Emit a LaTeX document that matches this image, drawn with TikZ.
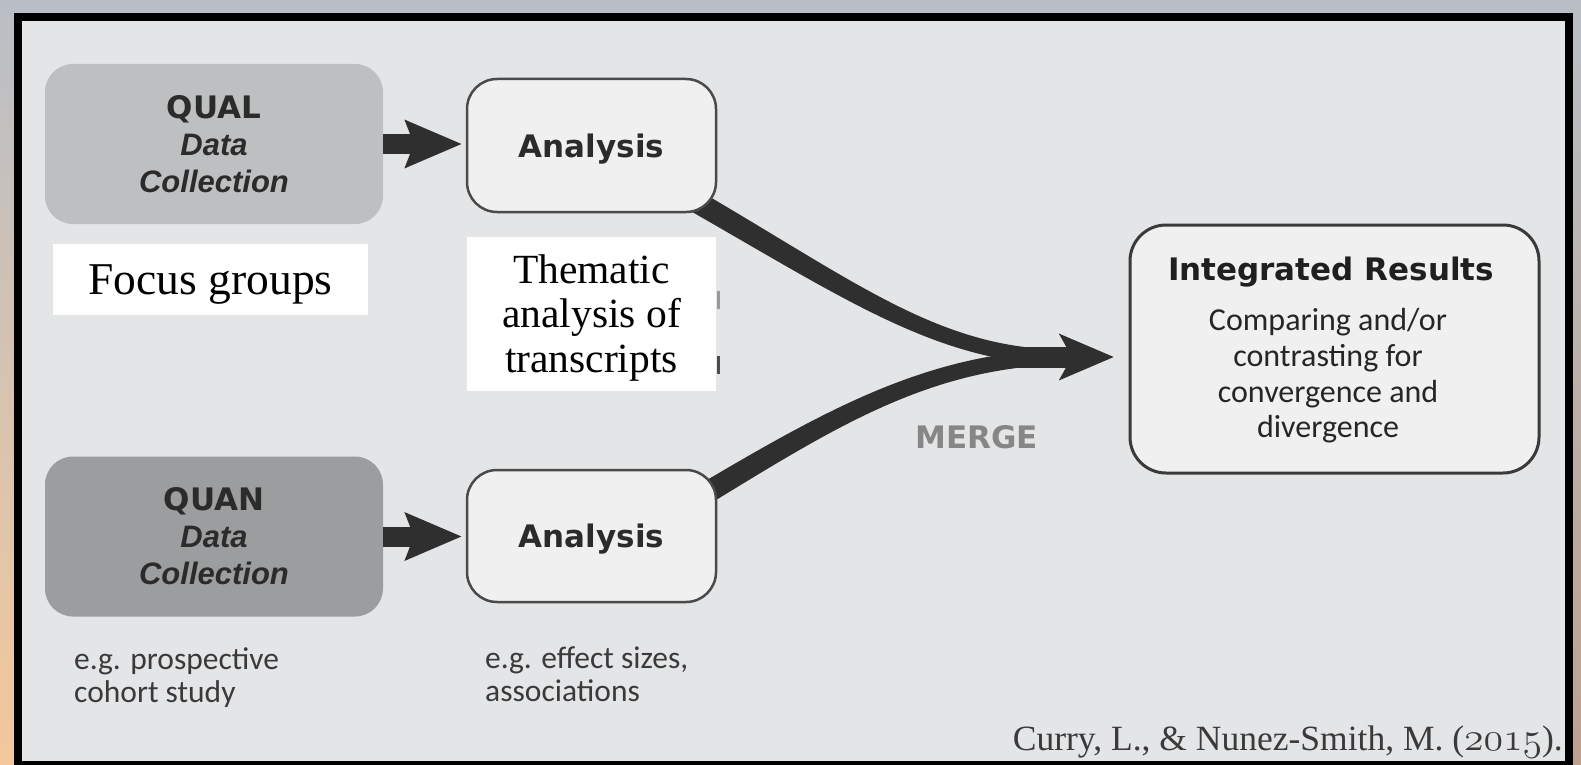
\documentclass[tikz,border=0pt]{standalone}
\usepackage{fontspec}
\usepackage{graphicx}
\usetikzlibrary{arrows.meta,calc}
\newfontfamily\djv{DejaVu Sans}
\newfontfamily\lib{Liberation Sans}
\newfontfamily\carl{Carlito}
\newfontfamily\lsr{Liberation Serif}
\newcommand\osdigits[1]{\scalebox{1.6}{\fontencoding{OML}\fontfamily{cmm}\fontseries{m}\fontshape{it}\fontsize{24.88}{30}\selectfont #1}}
\definecolor{bgtop}{HTML}{B9BEC6}
\definecolor{bgmid}{HTML}{D6D3CE}
\definecolor{bgbot}{HTML}{F3C89C}
\definecolor{bgright}{HTML}{BEA18D}
\definecolor{framefill}{HTML}{E4E5E7}
\definecolor{qualfill}{HTML}{BEBFC1}
\definecolor{quanfill}{HTML}{9C9D9F}
\definecolor{boxtext}{HTML}{2B2B2B}
\definecolor{arrcol}{HTML}{2F2F2F}
\definecolor{anafill}{HTML}{F0F0F1}
\definecolor{analine}{HTML}{4A4A4A}
\definecolor{intline}{HTML}{3A3A3A}
\definecolor{notecol}{HTML}{3A3A3A}
\definecolor{mergecol}{HTML}{868686}
\pgfdeclarelayer{bg}
\pgfdeclarelayer{strokes}
\pgfsetlayers{bg,strokes,main}
\begin{document}
\begin{tikzpicture}[x=1pt,y=-1pt,
  colbox/.style={rounded corners=28pt, inner sep=0pt, minimum width=338pt, minimum height=160pt, align=center, text=boxtext, font=\fontsize{31}{37}\selectfont},
  anabox/.style={draw=analine, line width=2.5pt, fill=anafill, rounded corners=30pt, inner sep=0pt, minimum width=249pt, minimum height=133pt, text=boxtext, font=\djv\bfseries\fontsize{31}{37}\selectfont, text depth=0pt},
  whitebox/.style={fill=white, inner sep=0pt, align=center, text=black},
  note/.style={inner sep=0pt, anchor=west, align=left, text=notecol, font=\carl\fontsize{31.5}{33}\selectfont},
  flowarrow/.style={draw=arrcol, line width=20pt, -{Stealth[length=56pt,width=46pt,inset=8pt]}},
]
\useasboundingbox (0,0) rectangle (1581,765);
\begin{pgfonlayer}{bg}
\shade[top color=bgtop, middle color=bgmid, bottom color=bgbot] (0,0) rectangle (1581,765);
\shade[top color=bgtop, bottom color=bgright] (1540,0) rectangle (1581,765);
\draw[line width=8pt, fill=framefill] (18,17) rectangle (1569,765);
\end{pgfonlayer}

% boxes
\node[colbox, fill=qualfill] (qual) at (214,144) {{\djv\bfseries QUAL}\\{\lib\bfseries\itshape Data}\\{\lib\bfseries\itshape Collection}};
\node[colbox, fill=quanfill] (quan) at (214,536.5) {{\djv\bfseries QUAN}\\{\lib\bfseries\itshape Data}\\{\lib\bfseries\itshape Collection}};
\node[anabox] (ana1) at (591.5,145.5) {Analysis};
\node[anabox, minimum height=132pt] (ana2) at (591.5,536) {Analysis};
\node[whitebox, minimum width=315pt, minimum height=71pt, font=\lsr\fontsize{45.5}{50}\selectfont, text depth=0pt] (focus) at (210.5,279.5) {Focus groups};
\node[whitebox, minimum width=249pt, minimum height=154pt] (thematic) at (591.5,314) {};
\node[inner sep=0pt, align=center, text=black, font=\lsr\fontsize{41.5}{44.5}\selectfont] (thematictext) at (591.5,318) {Thematic\\analysis of\\transcripts};
\node[draw=intline, line width=3pt, fill=anafill, rounded corners=36pt, minimum width=409pt, minimum height=248pt, inner sep=0pt] (integ) at (1334.5,349) {};
\node[anchor=base, inner sep=0pt, font=\djv\bfseries\fontsize{31}{37}\selectfont, text=black!88] (integtitle) at (1331,280) {Integrated Results};
\node[inner sep=0pt, align=center, font=\carl\fontsize{32}{35.7}\selectfont, text=black!85] (integbody) at (1328,376) {Comparing and/or\\contrasting for\\convergence and\\divergence};
\node[anchor=base, inner sep=0pt, font=\djv\bfseries\fontsize{31}{36}\selectfont, text=mergecol] (mergelabel) at (976.5,448) {MERGE};
\node[note] (note1) at (74,678) {e.g. prospective\\cohort study};
\node[note] (note2) at (485,674.5) {e.g. effect sizes,\\associations};
\node[anchor=base east, inner sep=0pt, text=notecol, font=\lsr\fontsize{35.5}{40}\selectfont] (cite) at (1563,750) {Curry, L., \& Nunez-Smith, M. (\osdigits{2015}).};

% small remnants beside the white box
\fill[black!40] (716.5,291) rectangle (719.5,309);
\fill[black!70] (716.5,356) rectangle (720,374);

% straight arrows
\draw[flowarrow, shorten >=3.75pt] (qual.east) -- (qual.east -| ana1.west);
\draw[flowarrow, shorten >=3.75pt] (quan.east) -- (quan.east -| ana2.west);

% merging strokes
\coordinate (s1) at ($(ana1.south east)+(-27,-15)$);
\coordinate (s2) at ($(ana2.north east)+(-12,25)$);
\coordinate (mergept) at (1065,357);
\begin{pgfonlayer}{strokes}
\fill[arrcol] ($(s1)+(5.5,-9.5)$) .. controls ($(s1)+(165,83)$) and ($(mergept)+(-125,-7.5)$) .. ($(mergept)+(0,-7.5)$) -- ($(mergept)+(0,7.5)$) .. controls ($(mergept)+(-125,7.5)$) and ($(s1)+(155,101)$) .. ($(s1)+(-5.5,9.5)$) -- cycle;
\fill[arrcol] ($(s2)+(-5.5,-9.5)$) .. controls ($(s2)+(120,-83.5)$) and ($(mergept)+(-135,-6)$) .. ($(mergept)+(0,-7.5)$) -- ($(mergept)+(0,7.5)$) .. controls ($(mergept)+(-135,10)$) and ($(s2)+(130,-66.5)$) .. ($(s2)+(5.5,9.5)$) -- cycle;
\end{pgfonlayer}
\draw[draw=arrcol, line width=21pt, -{Stealth[length=54pt,width=45pt,inset=12pt]}, shorten >=14.5pt] ($(mergept)+(-70,0)$) -- (mergept -| integ.west);
\end{tikzpicture}
\end{document}
